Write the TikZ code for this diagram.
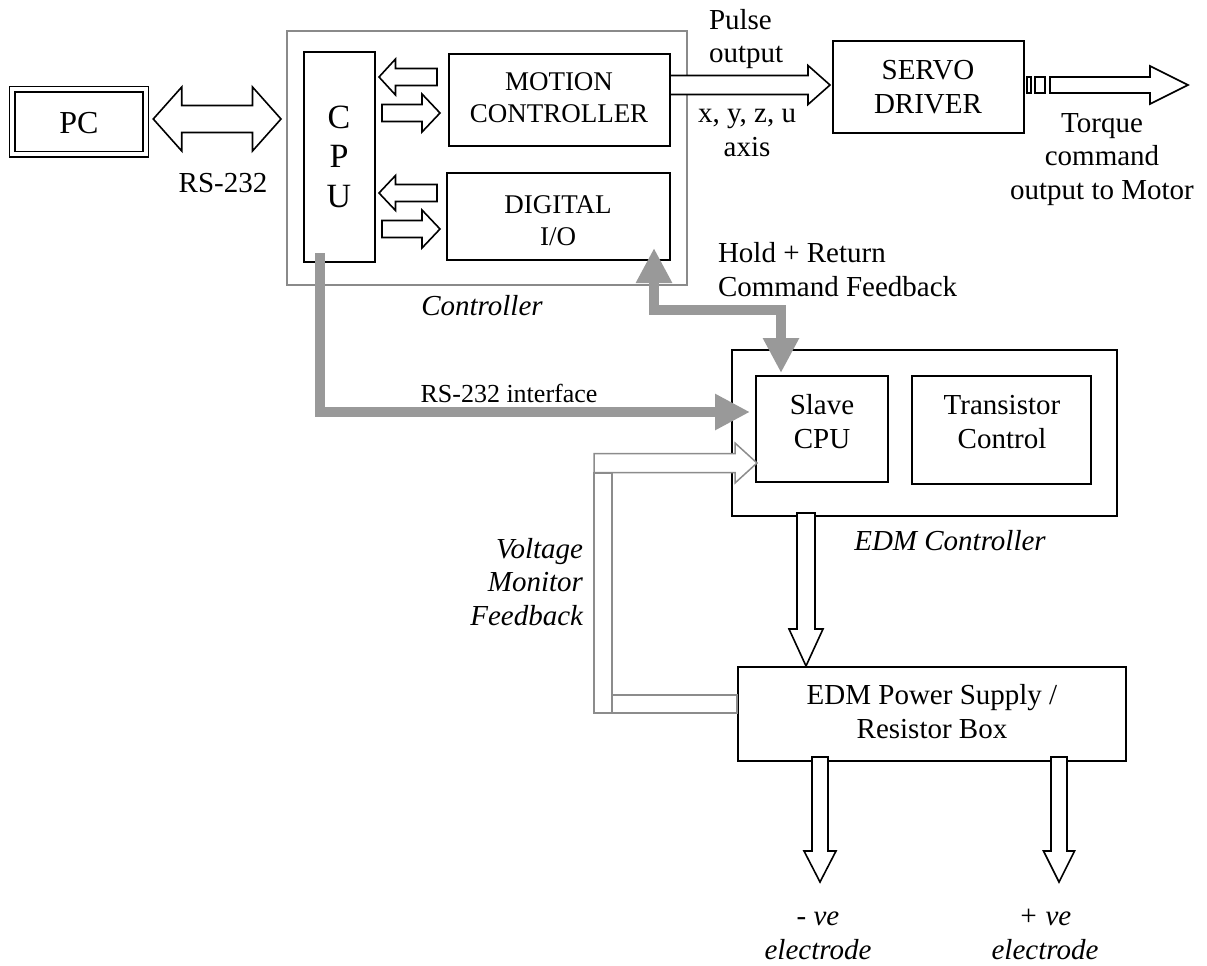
\documentclass[tikz,border=0pt]{standalone}
\usepackage{fontspec}
\setmainfont{Liberation Serif}
\usetikzlibrary{calc,arrows.meta}
\definecolor{ctrlgray}{RGB}{138,138,138}
\definecolor{thickgray}{RGB}{153,153,153}
\definecolor{fbgray}{RGB}{140,140,140}
% horizontal block arrow: style, tail point (x used), tip point, shaft half, head half, head length (neg = points left)
\newcommand\arR[6]{\draw[#1] let \p1=(#2), \p2=(#3) in
  (\x1,{\y2+#4pt}) -- ({\x2-(#6pt)},{\y2+#4pt}) -- ({\x2-(#6pt)},{\y2+#5pt}) -- (\x2,\y2)
  -- ({\x2-(#6pt)},{\y2-#5pt}) -- ({\x2-(#6pt)},{\y2-#4pt}) -- (\x1,{\y2-#4pt}) -- cycle;}
% vertical block arrow pointing down: style, tail point (y used), tip point, shaft half, head half, head length
\newcommand\arV[6]{\draw[#1] let \p1=(#2), \p2=(#3) in
  ({\x2-#4pt},\y1) -- ({\x2-#4pt},{\y2+(#6pt)}) -- ({\x2-#5pt},{\y2+(#6pt)}) -- (\x2,\y2)
  -- ({\x2+#5pt},{\y2+(#6pt)}) -- ({\x2+#4pt},{\y2+(#6pt)}) -- ({\x2+#4pt},\y1) -- cycle;}
% double-headed horizontal block arrow: style, left tip, right tip, shaft half, head half, head length
\newcommand\arLR[6]{\draw[#1] let \p1=(#2), \p2=(#3) in
  (\x1,\y2) -- ({\x1+#6pt},{\y2+#5pt}) -- ({\x1+#6pt},{\y2+#4pt}) -- ({\x2-#6pt},{\y2+#4pt})
  -- ({\x2-#6pt},{\y2+#5pt}) -- (\x2,\y2) -- ({\x2-#6pt},{\y2-#5pt}) -- ({\x2-#6pt},{\y2-#4pt})
  -- ({\x1+#6pt},{\y2-#4pt}) -- ({\x1+#6pt},{\y2-#5pt}) -- cycle;}
\begin{document}
\begin{tikzpicture}[x=1pt,y=-1pt,
  box/.style={draw, line width=1.8pt, inner sep=0pt, outer sep=0pt},
  gbox/.style={draw=ctrlgray, line width=2pt, inner sep=0pt, outer sep=0pt},
  pcbox/.style={draw, double, double distance=4pt, line width=1.4pt, inner sep=0pt, outer sep=0pt},
  txt/.style={inner sep=0pt, outer sep=0pt, align=center, font=\fontsize{29}{33.5}\selectfont},
  it/.style={font=\fontsize{29}{33.5}\selectfont\itshape},
  small/.style={font=\fontsize{27}{32}\selectfont},
  blk/.style={draw, line width=1.6pt, fill=white, line join=miter},
  fb/.style={draw=fbgray, line width=1.5pt, fill=white},
  gline/.style={draw=thickgray, line width=10.5pt},
  gtip/.tip={Triangle[length=35pt,width=34pt]}
]
\useasboundingbox (0,0) rectangle (1207,966);

% boxes
\node[pcbox, minimum width=133.5pt, minimum height=65pt] (PC) at (79,121.8) {};
\node[gbox, minimum width=400pt, minimum height=254pt] (Ctrl) at (487,158) {};
\node[box, minimum width=71pt, minimum height=210pt] (CPU) at (339.5,157) {};
\node[box, minimum width=221pt, minimum height=92pt] (MC) at (559.5,100) {};
\node[box, minimum width=223pt, minimum height=87pt] (DIO) at (558.5,216.5) {};
\node[box, minimum width=191pt, minimum height=92pt] (Servo) at (928.5,87) {};
\node[box, minimum width=385pt, minimum height=166pt] (EDMC) at (924.5,433) {};
\node[box, minimum width=132pt, minimum height=106pt] (Slave) at (822,429) {};
\node[box, minimum width=179pt, minimum height=108pt] (Trans) at (1001.5,430) {};
\node[box, minimum width=388pt, minimum height=94pt] (Power) at (932,714) {};

% texts
\node[txt, font=\fontsize{32}{37}\selectfont] (tPC) at (79,125.6) {\strut PC};
\node[txt, font=\fontsize{34}{39.5}\selectfont] (tCPU) at (339,159.6) {\strut C\\\strut P\\\strut U};
\node[txt, small] (tMC) at (559,100.3) {\strut MOTION\\\strut CONTROLLER};
\node[txt, small] (tDIO) at (558,222.6) {\strut DIGITAL\\\strut I/O};
\node[txt] (tRS) at (223,185.3) {\strut RS-232};
\node[txt, it] (tCtrl) at (482,308.3) {\strut Controller};
\node[txt, align=left, anchor=west] (tPulse) at (709,39.2) {\strut Pulse\\\strut output};
\node[txt] (tAxis) at (747,132.9) {\strut x, y, z, u\\\strut axis};
\node[txt] (tServo) at (928,89.8) {\strut SERVO\\\strut DRIVER};
\node[txt] (tTorque) at (1102,158.8) {\strut Torque\\\strut command\\\strut output to Motor};
\node[txt, align=left, anchor=west] (tHold) at (718,272.8) {\strut Hold + Return\\\strut Command Feedback};
\node[txt, font=\fontsize{26}{30}\selectfont] (tRSi) at (509,396) {\strut RS-232 interface};
\node[txt] (tSlave) at (822,424.8) {\strut Slave\\\strut CPU};
\node[txt] (tTrans) at (1002,424.8) {\strut Transistor\\\strut Control};
\node[txt, it] (tEDMC) at (950,543.3) {\strut EDM Controller};
\node[txt, it, align=right, anchor=east] (tVolt) at (583,584.8) {\strut Voltage\\\strut Monitor\\\strut Feedback};
\node[txt] (tPow) at (932,714.8) {\strut EDM Power Supply /\\\strut Resistor Box};
\node[txt, it] (tNeg) at (818,935.8) {\strut - ve\\\strut electrode};
\node[txt, it] (tPos) at (1045,935.8) {\strut + ve\\\strut electrode};

% free ends
\coordinate (motor) at (1188,85);
\coordinate (negtip) at (820,882);
\coordinate (postip) at (1059,882);
\coordinate (fbstart) at (594,463);

% black block arrows
\arLR{blk}{$(PC.east)+(7.5,-2.8)$}{$(Ctrl.west)+(-6,-39)$}{13.5}{32}{28.5}
\arR{blk}{$(MC.west)+(-12,0)$}{$(CPU.east)+(4,-80)$}{8.5}{18}{-16.5}
\arR{blk}{$(CPU.east)+(7,0)$}{$(MC.west)+(-9,13)$}{8.5}{19}{18}
\arR{blk}{$(DIO.west)+(-10,0)$}{$(CPU.east)+(4,36)$}{8.5}{17.5}{-16.5}
\arR{blk}{$(CPU.east)+(7,0)$}{$(DIO.west)+(-7,12.5)$}{8.5}{19}{18}
\arR{blk}{MC.east}{$(Servo.west)+(-3,-2)$}{9.5}{19.5}{22}
\draw[line width=1.5pt] ($(Servo.east)+(3,-10)$) rectangle ($(Servo.east)+(7,6)$);
\draw[line width=1.5pt] ($(Servo.east)+(11,-10)$) rectangle ($(Servo.east)+(21,6)$);
\arR{blk}{$(Servo.east)+(26,0)$}{motor}{8}{19}{38}
\arV{blk}{$(EDMC.south)+(0,-3)$}{$(Power.north)+(-126,-1)$}{9}{17}{37}
\arV{blk}{$(Power.south)+(0,-4)$}{negtip}{8}{16}{31}
\arV{blk}{$(Power.south)+(0,-4)$}{postip}{8}{15.5}{31}

% voltage monitor feedback (gray outline)
\draw[fb] (594,473) rectangle (612,713);
\draw[fb] (612,695) rectangle ($(Power.west)+(-1,-1)$);
\arR{fb}{fbstart}{$(Slave.west)+(1,34)$}{9.5}{20}{22}

% thick gray connectors
\draw[gline, -gtip] ($(CPU.south)+(-19.5,-9)$) |- ($(Slave.west)+(-6,-17)$);
\draw[gline, gtip-gtip] ($(DIO.south east)+(-16,-12)$) -- ++(0,62) -| ($(Slave.north)+(-41,-3)$);
\end{tikzpicture}
\end{document}
